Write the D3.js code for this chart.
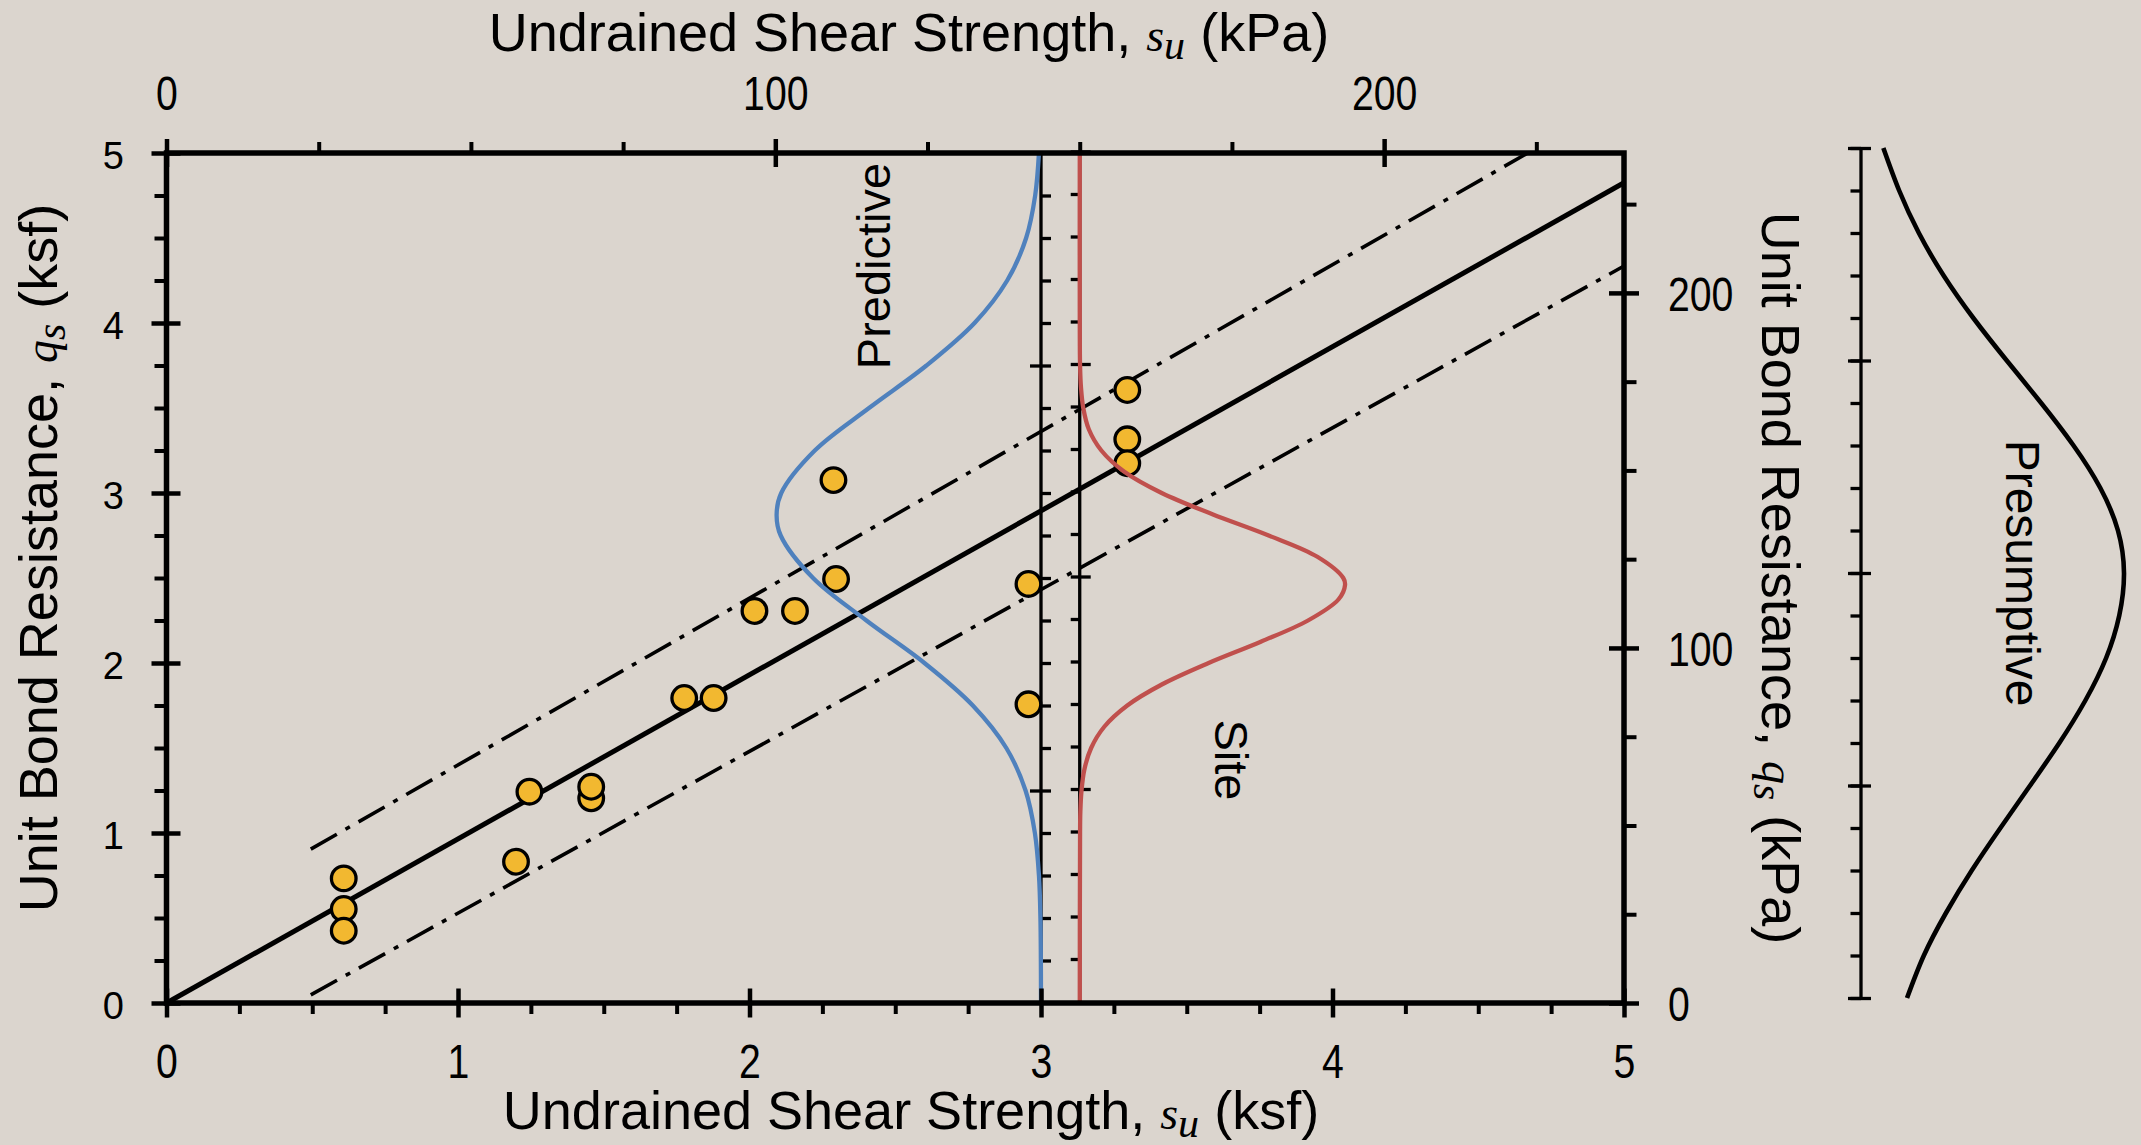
<!DOCTYPE html>
<html><head><meta charset="utf-8">
<script src="https://cdn.jsdelivr.net/npm/d3@7"></script>
<style>
html,body{margin:0;padding:0;background:#DBD5CE;}
svg{display:block;}
</style></head><body>
<svg id="c" width="2141" height="1145"></svg>
<script>
// ---------------- data ----------------
const KPA_PER_KSF = 47.880;
const majorKsf = [0, 1, 2, 3, 4, 5];
const minorKsf = [0.25,0.5,0.75,1.25,1.5,1.75,2.25,2.5,2.75,3.25,3.5,3.75,4.25,4.5,4.75];
const majorKpa = [0, 100, 200];
const minorKpa = [25, 50, 75, 125, 150, 175, 225];

// measured points: su (ksf), qs (ksf)
const pointSu = [0.608,0.608,0.608,1.199,1.245,1.457,1.457,1.776,1.877,2.017,2.156,2.288,2.297,2.957,2.957,3.296,3.296,3.296];
const pointQs = [0.733,0.553,0.425,0.831,1.243,1.204,1.272,1.794,1.794,2.306,2.306,3.076,2.494,2.465,1.757,3.606,3.316,3.175];

// fitted line and bounds (su, qs)
const fitSu = [0, 5];
const fitQs = [0, 4.825];
const upperSu = [0.495, 4.67];
const upperQs = [0.905, 5.0];
const lowerSu = [0.495, 5.0];
const lowerQs = [0.048, 4.335];

// Predictive distribution (blue), drawn along qs, offset on su axis
const blueQs = [5.0,4.75,4.5,4.25,4.0,3.75,3.5,3.25,3.0,2.87,2.75,2.5,2.25,2.0,1.75,1.5,1.25,1.0,0.75,0.5,0.0];
const blueSu = [2.993,2.980,2.949,2.884,2.772,2.607,2.410,2.224,2.109,2.093,2.107,2.218,2.401,2.600,2.766,2.881,2.947,2.979,2.993,2.998,3.0];

// Site distribution (red)
const redQs = [5.0,4.0,3.75,3.625,3.5,3.375,3.25,3.125,3.0,2.875,2.75,2.625,2.5,2.459,2.375,2.25,2.125,2.0,1.875,1.75,1.625,1.5,1.375,1.25,1.125,1.0,0.0];
const redSu = [3.133,3.133,3.134,3.137,3.145,3.164,3.207,3.286,3.414,3.588,3.781,3.948,4.037,4.043,4.021,3.916,3.754,3.575,3.416,3.296,3.217,3.172,3.149,3.139,3.135,3.134,3.133];

// Presumptive distribution (separate panel), qs vs relative density
const presQs = [5.0,4.75,4.5,4.25,4.0,3.75,3.5,3.25,3.0,2.75,2.5,2.25,2.0,1.75,1.5,1.25,1.0,0.75,0.5,0.25,0.0];
const presD  = [0.085,0.145,0.22,0.314,0.427,0.554,0.685,0.808,0.910,0.977,1.0,0.982,0.932,0.853,0.754,0.643,0.530,0.421,0.323,0.239,0.175];
const panelTicks = d3.range(0, 5.0001, 0.25);
const panelMajor = [0, 1.25, 2.5, 3.75, 5];

const predictiveBase = 3.0;
const siteBase = 150 / KPA_PER_KSF;

// ---------------- drawing ----------------
const SANS = "'Liberation Sans', Arial, sans-serif";
const SERIF = "'Liberation Serif', 'Times New Roman', serif";

const svg = d3.select('#c');
svg.append('rect').attr('width',2141).attr('height',1145).attr('fill','#DBD5CE');

const L = 166.5, R = 1624, T = 153, B = 1003;
const x = d3.scaleLinear().domain([0,5]).range([L,R]);
const y = d3.scaleLinear().domain([0,5]).range([B,T]);
const xk = d3.scaleLinear().domain([0,5*KPA_PER_KSF]).range([L,R]);
const yk = d3.scaleLinear().domain([0,5*KPA_PER_KSF]).range([B,T]);

function styleAxis(g, sw, size){
  g.select('.domain').remove();
  g.attr('font-family', SANS).attr('font-size', size);
  g.selectAll('line').attr('stroke','#000').attr('stroke-width', sw);
  g.selectAll('text').attr('fill','#000');
}
function narrow(sel, f){
  sel.each(function(){
    const w = this.getComputedTextLength();
    d3.select(this).attr('textLength', w*f).attr('lengthAdjust','spacingAndGlyphs');
  });
}

// middle axes for the distributions
const ax1 = svg.append('g').attr('transform',`translate(${x(predictiveBase)},0)`);
ax1.append('line').attr('x1',0).attr('x2',0).attr('y1',T).attr('y2',B);
ax1.call(d3.axisRight(y).tickValues(panelTicks.filter(v=>v>0&&v<5)).tickSize(10).tickFormat(''));
styleAxis(ax1,3.3,10);
const ax1m = svg.append('g').attr('transform',`translate(${x(predictiveBase)},0)`)
  .call(d3.axisLeft(y).tickValues([1.25,2.5,3.75]).tickSize(11).tickFormat(''));
styleAxis(ax1m,3.3,10);

const ax2 = svg.append('g').attr('transform',`translate(${x(siteBase)},-1.5)`);
ax2.append('line').attr('x1',0).attr('x2',0).attr('y1',T+1.5).attr('y2',B+1.5);
ax2.call(d3.axisLeft(y).tickValues(panelTicks.filter(v=>v>0&&v<=5)).tickSize(9).tickFormat(''));
styleAxis(ax2,3.3,10);
const ax2m = svg.append('g').attr('transform',`translate(${x(siteBase)},-1.5)`)
  .call(d3.axisRight(y).tickValues([1.25,2.5,3.75,5]).tickSize(11).tickFormat(''));
styleAxis(ax2m,3.3,10);

// bounds and fit
function seg(xs, ys){ return xs.map((v,i)=>[v, ys[i]]); }
const line = d3.line().x(d=>x(d[0])).y(d=>y(d[1]));
svg.append('path').attr('d', line(seg(upperSu,upperQs))).attr('fill','none').attr('stroke','#000')
  .attr('stroke-width',3.6).attr('stroke-dasharray','30,10,5,10');
svg.append('path').attr('d', line(seg(lowerSu,lowerQs))).attr('fill','none').attr('stroke','#000')
  .attr('stroke-width',3.6).attr('stroke-dasharray','30,10,5,10');
svg.append('path').attr('d', line(seg(fitSu,fitQs))).attr('fill','none').attr('stroke','#000')
  .attr('stroke-width',5);

// points
svg.append('g').selectAll('circle').data(pointSu.map((v,i)=>[v,pointQs[i]])).join('circle')
  .attr('cx',d=>x(d[0])).attr('cy',d=>y(d[1])).attr('r',12.3)
  .attr('fill','#F2B830').attr('stroke','#000').attr('stroke-width',3.3);

// distribution curves
const curve = d3.line().x(d=>x(d[0])).y(d=>y(d[1])).curve(d3.curveCatmullRom);
svg.append('path').attr('d', curve(blueQs.map((q,i)=>[blueSu[i],q]))).attr('fill','none')
  .attr('stroke','#4F81BD').attr('stroke-width',4.3);
svg.append('path').attr('d', curve(redQs.map((q,i)=>[redSu[i],q]))).attr('fill','none')
  .attr('stroke','#C0504D').attr('stroke-width',4.3);

// frame
svg.append('rect').attr('x',L).attr('y',T).attr('width',R-L).attr('height',B-T)
  .attr('fill','none').attr('stroke','#000').attr('stroke-width',5.5);

// bottom axis (ksf)
let g = svg.append('g').attr('transform',`translate(0,${B})`)
  .call(d3.axisBottom(x).tickValues(minorKsf).tickSize(11).tickFormat(''));
styleAxis(g,4,10);
g = svg.append('g').attr('transform',`translate(0,${B})`)
  .call(d3.axisBottom(x).tickValues(majorKsf).tickSize(14.5).tickPadding(25.5).tickFormat(d3.format('d')));
styleAxis(g,4.5,49);
narrow(g.selectAll('text'), 0.8);
g = svg.append('g').attr('transform',`translate(0,${B})`)
  .call(d3.axisTop(x).tickValues(majorKsf).tickSize(14.5).tickFormat(''));
styleAxis(g,4.5,10);

// top axis (kPa)
g = svg.append('g').attr('transform',`translate(0,${T})`)
  .call(d3.axisTop(xk).tickValues(minorKpa).tickSize(11).tickFormat(''));
styleAxis(g,4,10);
g = svg.append('g').attr('transform',`translate(0,${T})`)
  .call(d3.axisTop(xk).tickValues(majorKpa).tickSize(14).tickPadding(29).tickFormat(d3.format('d')));
styleAxis(g,4.5,49);
narrow(g.selectAll('text'), 0.8);
g = svg.append('g').attr('transform',`translate(0,${T})`)
  .call(d3.axisBottom(xk).tickValues(majorKpa).tickSize(14).tickFormat(''));
styleAxis(g,4.5,10);

// left axis (ksf)
g = svg.append('g').attr('transform',`translate(${L},0)`)
  .call(d3.axisLeft(y).tickValues(minorKsf).tickSize(12).tickFormat(''));
styleAxis(g,4,10);
g = svg.append('g').attr('transform',`translate(${L},0)`)
  .call(d3.axisLeft(y).tickValues(majorKsf).tickSize(15).tickPadding(27.5).tickFormat(d3.format('d')));
styleAxis(g,4.5,38);
g.selectAll('text').attr('dy','0.42em');
g = svg.append('g').attr('transform',`translate(${L},0)`)
  .call(d3.axisRight(y).tickValues(majorKsf).tickSize(14).tickFormat(''));
styleAxis(g,4.5,10);

// right axis (kPa)
g = svg.append('g').attr('transform',`translate(${R},0)`)
  .call(d3.axisRight(yk).tickValues(minorKpa).tickSize(12.5).tickFormat(''));
styleAxis(g,4,10);
g = svg.append('g').attr('transform',`translate(${R},0)`)
  .call(d3.axisRight(yk).tickValues(majorKpa).tickSize(15).tickPadding(29).tickFormat(d3.format('d')));
styleAxis(g,4.5,49);
g.selectAll('text').attr('dy','0.35em');
narrow(g.selectAll('text'), 0.8);
g = svg.append('g').attr('transform',`translate(${R},0)`)
  .call(d3.axisLeft(yk).tickValues(majorKpa).tickSize(15).tickFormat(''));
styleAxis(g,4.5,10);

// presumptive panel
const pY = d3.scaleLinear().domain([0,5]).range([998,148]);
const pX = d3.scaleLinear().domain([0,1]).range([1861,2124]);
const pg = svg.append('g').attr('transform',`translate(${pX(0)},0)`);
pg.append('line').attr('x1',0).attr('x2',0).attr('y1',pY(0)).attr('y2',pY(5));
pg.call(d3.axisLeft(pY).tickValues(panelTicks).tickSize(10.5).tickFormat(''));
styleAxis(pg,3.3,10);
const pgm = svg.append('g').attr('transform',`translate(${pX(0)},0)`)
  .call(d3.axisRight(pY).tickValues(panelMajor).tickSize(10).tickFormat(''));
styleAxis(pgm,3.3,10);
pgm.selectAll('line').attr('x1',-13);
const pline = d3.line().x(d=>pX(d[1])).y(d=>pY(d[0])).curve(d3.curveNatural);
svg.append('path').attr('d', pline(presQs.map((q,i)=>[q,presD[i]]))).attr('fill','none')
  .attr('stroke','#000').attr('stroke-width',4.6);

// titles
function title(tx, ty, rot, pre, mainSym, sub, post, size){
  const t = svg.append('text').attr('transform',`translate(${tx},${ty}) rotate(${rot})`)
    .attr('text-anchor','middle').attr('font-family',SANS).attr('font-size',size).attr('fill','#000');
  t.append('tspan').text(pre);
  t.append('tspan').attr('font-family',SERIF).attr('font-style','italic').attr('font-size',size*0.85).text(mainSym);
  t.append('tspan').attr('font-family',SERIF).attr('font-style','italic').attr('font-size',size*0.78).attr('dy',8).text(sub);
  t.append('tspan').attr('dy',-8).text(post);
}
title(909, 51, 0, 'Undrained Shear Strength, ', 's', 'u', ' (kPa)', 54);
title(911, 1129, 0, 'Undrained Shear Strength, ', 's', 'u', ' (ksf)', 54);
title(57, 558, -90, 'Unit Bond Resistance, ', 'q', 's', ' (ksf)', 54);
title(1762, 578, 90, 'Unit Bond Resistance, ', 'q', 's', ' (kPa)', 54);

function label(tx, ty, rot, txt, size){
  svg.append('text').attr('transform',`translate(${tx},${ty}) rotate(${rot})`)
    .attr('text-anchor','middle').attr('font-family',SANS).attr('font-size',size).attr('fill','#000').text(txt);
}
label(890, 266, -90, 'Predictive', 47);
label(1215, 760, 90, 'Site', 47);
label(2006, 573, 90, 'Presumptive', 48);
</script>
</body></html>
